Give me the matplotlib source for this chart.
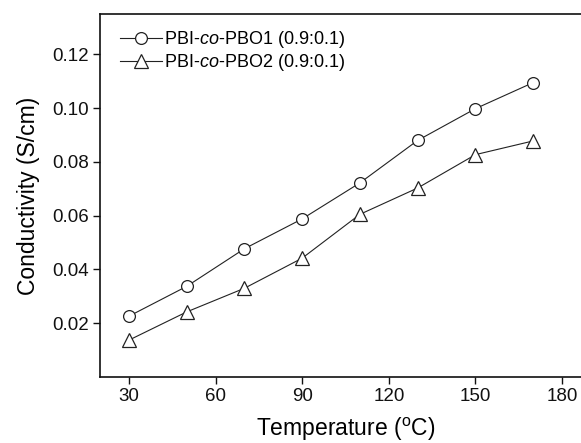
import matplotlib
matplotlib.use("Agg")
import matplotlib.pyplot as plt

plt.rcParams['font.family'] = ['Liberation Sans', 'DejaVu Sans']
plt.rcParams['mathtext.fontset'] = 'custom'
plt.rcParams['mathtext.rm'] = 'Liberation Sans'
plt.rcParams['mathtext.it'] = 'Liberation Sans:italic'

temperature = [30, 50, 70, 90, 110, 130, 150, 170]
pbo1 = [0.0226, 0.0337, 0.0477, 0.0588, 0.0722, 0.0880, 0.0998, 0.1095]
pbo2 = [0.0137, 0.0242, 0.0330, 0.0442, 0.0605, 0.0703, 0.0827, 0.0878]
label1 = r'PBI-$\it{co}$-PBO1 (0.9:0.1)'
label2 = r'PBI-$\it{co}$-PBO2 (0.9:0.1)'
xticks = [30, 60, 90, 120, 150, 180]
yticks = [0.02, 0.04, 0.06, 0.08, 0.10, 0.12]

fig = plt.figure(figsize=(5.81, 4.43), dpi=100)
ax = fig.add_axes([100/581, 66/443, 491/581, 363/443])

ax.plot(temperature, pbo1, color='#222222', lw=0.8, marker='o', ms=8.5,
        mfc='white', mec='#222222', mew=0.9, label=label1)
ax.plot(temperature, pbo2, color='#222222', lw=0.8, marker='^', ms=9.5,
        mfc='white', mec='#222222', mew=0.9, label=label2)

ax.set_xlim(20, 190)
ax.set_ylim(0, 0.135)
ax.set_xticks(xticks)
ax.set_yticks(yticks)
ax.set_yticklabels([f'{v:.2f}' for v in yticks])
ax.tick_params(direction='out', length=5, width=1, labelsize=13.5, colors='#111111', pad=3)
for s in ax.spines.values():
    s.set_linewidth(1.2)
    s.set_color('#111111')

ax.set_xlabel('Temperature ($^\\mathrm{o}$C)', fontsize=16.5, labelpad=8)
ax.set_ylabel('Conductivity (S/cm)', fontsize=16.5, labelpad=9)

ax.legend(loc='upper left', frameon=False, fontsize=13, handlelength=2.3,
          handletextpad=0.15, borderaxespad=0.3, labelspacing=0.1,
          bbox_to_anchor=(0.015, 0.993))

fig.savefig('out.png', dpi=100)
